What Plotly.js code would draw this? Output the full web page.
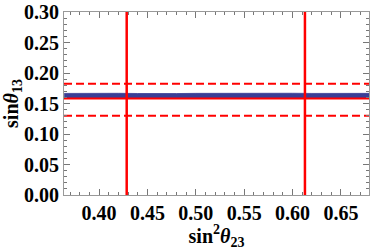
<!DOCTYPE html>
<html><head><meta charset="utf-8">
<script src="https://cdn.plot.ly/plotly-3.0.1.min.js"></script>
<style>html,body{margin:0;padding:0;background:#fff}#plot{width:371px;height:250px}</style>
</head><body><div id="plot"></div>
<script>
// Blue scatter band (sin^2 theta23 vs sin theta13), edges
const bandX    = [0.364, 0.38, 0.40, 0.42, 0.44, 0.46, 0.48, 0.50, 0.52, 0.54, 0.56, 0.58, 0.60, 0.62, 0.64, 0.66, 0.679];
const bandHigh = [0.1665,0.1668,0.1662,0.1667,0.1664,0.1669,0.1663,0.1666,0.1668,0.1664,0.1667,0.1663,0.1668,0.1665,0.1667,0.1664,0.1666];
const bandLow  = [0.1578,0.1578,0.1578,0.1578,0.1578,0.1578,0.1578,0.1578,0.1578,0.1578,0.1578,0.1578,0.1578,0.1578,0.1578,0.1578,0.1578];
// Reference values
const s23Bounds = [0.4286, 0.6128];   // vertical solid red lines
const s13Bounds = [0.130, 0.1825];    // dashed red lines
const s13Best   = 0.158;              // solid red horizontal line
const xRange = [0.3638, 0.679];
const yRange = [0, 0.30];

const blue = 'rgb(58,62,150)';
const red = 'rgb(255,0,0)';
const traces = [];
traces.push({x: bandX, y: bandLow, mode:'lines', line:{width:0, color:blue}, hoverinfo:'skip', showlegend:false});
traces.push({x: bandX, y: bandHigh, mode:'lines', fill:'tonexty', fillcolor:blue, line:{width:0.8, color:blue}, showlegend:false});
s13Bounds.forEach(v => traces.push({x: xRange, y:[v,v], mode:'lines', line:{color:red, width:2, dash:'8px,4px'}, showlegend:false}));
traces.push({x: xRange, y:[s13Best,s13Best], mode:'lines', line:{color:red, width:2}, showlegend:false});
s23Bounds.forEach(v => traces.push({x:[v,v], y: yRange, mode:'lines', line:{color:red, width:2.5}, showlegend:false}));

const fnt = {family:'"Liberation Serif", "Times New Roman", serif', size:20, color:'#000', weight:700};
const axisCommon = {
  showline:true, linecolor:'#999', linewidth:1, mirror:'allticks', showgrid:false, zeroline:false,
  ticks:'inside', ticklen:6, tickcolor:'#777', tickwidth:1,
  tickmode:'linear', dtick:0.05, tickformat:'.2f',
  minor:{ticks:'inside', ticklen:3, tickcolor:'#777', tickwidth:1, dtick:0.01, showgrid:false},
  tickfont: fnt
};
const layout = {
  width:371, height:250,
  margin:{l:64, r:2, t:12, b:55},
  paper_bgcolor:'#fff', plot_bgcolor:'#fff',
  xaxis: Object.assign({}, axisCommon, {range:xRange, tick0:0.40,
    title:{text:'<b>sin<sup>2</sup><i>θ</i><sub>23</sub></b>', font:fnt, standoff:10}}),
  yaxis: Object.assign({}, axisCommon, {range:yRange, tick0:0,
    title:{text:'<b>sin<i>θ</i><sub>13</sub></b>', font:fnt, standoff:2}})
};
Plotly.newPlot('plot', traces, layout, {staticPlot:true, displayModeBar:false});
</script></body></html>
